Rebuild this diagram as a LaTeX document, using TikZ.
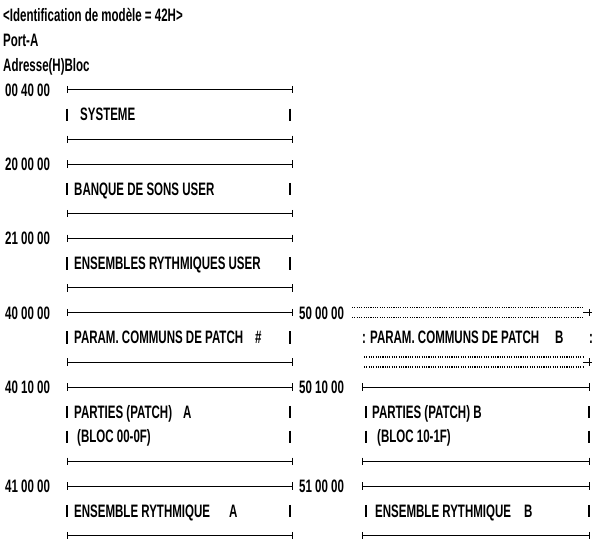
\documentclass[tikz,border=0pt]{standalone}
\usepackage{fontspec}
\setmainfont[FakeStretch=0.64]{Liberation Sans Bold}

\begin{document}
\begin{tikzpicture}[x = 1pt, y = -24.77pt,
	txt/.style = {anchor=west, inner sep=0pt, text height=12.9pt, text depth=0pt, font=\fontsize{18}{18}\selectfont},
	rule/.style = {line width=0.9pt},
	dots/.style = {line width=1.6pt, dash pattern=on 1.1pt off 1.2pt},
	bar/.style = {line width=1.3pt}]
	\useasboundingbox (0,-0.622) rectangle (595,21.378);
	% en-tete
	\node[txt] (ident) at (3,0) {<Identification de modèle = 42H>};
	\node[txt] (port) at (3,1) {Port-A};
	\node[txt] (adr) at (3,2) {Adresse(H)Bloc};
	% adresses
	\foreach \r/\a in {3/00 40 00, 6/20 00 00, 9/21 00 00, 12/40 00 00, 15/40 10 00, 19/41 00 00}{
		\node[txt] (adrL\r) at (5,\r) {\a};
	}
	\foreach \r/\a in {12/50 00 00, 15/50 10 00, 19/51 00 00}{
		\node[txt] (adrR\r) at (299,\r) {\a};
	}
	% lignes
	\foreach \r in {3,5,6,8,9,11,12,14,15,18,19,21}{
		\draw[rule] (67,\r) -- (292,\r);
		\draw[rule] (67,\r-0.15) -- (67,\r+0.15);
		\draw[rule] (292,\r-0.15) -- (292,\r+0.15);
	}
	\foreach \r in {15,18,19,21}{
		\draw[rule] (362,\r) -- (589,\r);
		\draw[rule] (362,\r-0.15) -- (362,\r+0.15);
		\draw[rule] (589,\r-0.15) -- (589,\r+0.15);
	}
	\draw[dots] (352,11.8) -- (583,11.8);
	\draw[dots] (352,12.2) -- (583,12.2);
	\draw[dots] (364,13.8) -- (583,13.8);
	\draw[dots] (364,14.2) -- (583,14.2);
	\foreach \r in {12,14}{
		\draw[rule] (583,\r) -- (592,\r);
		\draw[rule] (589,\r-0.15) -- (589,\r+0.15);
	}
	% bords
	\foreach \r in {4,7,10,13,16,17,20}{
		\draw[bar] (67,\r-0.24) -- (67,\r+0.26);
		\draw[bar] (290,\r-0.24) -- (290,\r+0.26);
	}
	\foreach \r in {16,17,20}{
		\draw[bar] (366,\r-0.24) -- (366,\r+0.26);
		\draw[bar] (589,\r-0.24) -- (589,\r+0.26);
	}
	\node[txt] (colL) at (362,13) {:};
	\node[txt] (colR) at (589,13) {:};
	% blocs
	\node[txt] (sys) at (80,4) {SYSTEME};
	\node[txt] (banque) at (74,7) {BANQUE DE SONS USER};
	\node[txt] (ensU) at (74,10) {ENSEMBLES RYTHMIQUES USER};
	\node[txt] (paramA) at (74,13) {PARAM. COMMUNS DE PATCH};
	\node[txt] (diese) at (255,13) {\#};
	\node[txt] (partA) at (74,16) {PARTIES (PATCH)};
	\node[txt] (lettreA) at (183,16) {A};
	\node[txt] (blocA) at (77,17) {(BLOC 00-0F)};
	\node[txt] (ensA) at (74,20) {ENSEMBLE RYTHMIQUE};
	\node[txt] (lettreEA) at (229,20) {A};
	\node[txt] (paramB) at (370,13) {PARAM. COMMUNS DE PATCH};
	\node[txt] (lettrePB) at (555,13) {B};
	\node[txt] (partB) at (372,16) {PARTIES (PATCH) B};
	\node[txt] (blocB) at (377,17) {(BLOC 10-1F)};
	\node[txt] (ensB) at (375,20) {ENSEMBLE RYTHMIQUE};
	\node[txt] (lettreEB) at (524,20) {B};
\end{tikzpicture}
\end{document}
